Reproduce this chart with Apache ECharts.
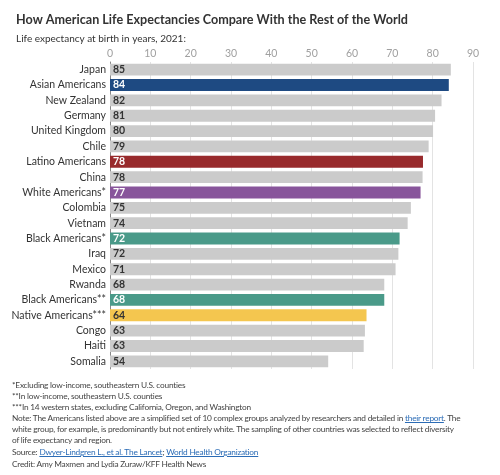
<!DOCTYPE html>
<html lang="en">
<head>
    <meta charset="UTF-8">
    <title>Life Expectancy</title>
    <script src="https://cdn.jsdelivr.net/npm/echarts@6/dist/echarts.min.js"></script>
    <style>
        * {
            padding: 0;
            margin: 0;
        }
        body {
            width: 500px;
            height: 475px;
            position: relative;
            background: #fff;
            font-family: Lato, sans-serif;
        }
        #chart {
            width: 500px;
            height: 475px;
            position: absolute;
            left: 0;
            top: 0;
        }
        .notes {
            position: absolute;
            left: 12px;
            top: 380px;
            width: 480px;
            font-size: 8.3px;
            letter-spacing: -0.22px;
            line-height: 11px;
            color: #444;
        }
        .notes div {
            white-space: nowrap;
        }
        .notes a {
            color: #2b6cb6;
        }
        .notes .src {
            margin-top: 1px;
        }
        .notes .credit {
            margin-top: 1px;
        }
    </style>
</head>
<body>
    <div id="chart"></div>
    <div class="notes">
        <div>*Excluding low-income, southeastern U.S. counties</div>
        <div>**In low-income, southeastern U.S. counties</div>
        <div>***In 14 western states, excluding California, Oregon, and Washington</div>
        <div>Note: The Americans listed above are a simplified set of 10 complex groups analyzed by researchers and detailed in <a href="#">their report</a>. The</div>
        <div>white group, for example, is predominantly but not entirely white. The sampling of other countries was selected to reflect diversity</div>
        <div>of life expectancy and region.</div>
        <div class="src">Source: <a href="#">Dwyer-Lindgren L., et al. The Lancet</a>; <a href="#">World Health Organization</a></div>
        <div class="credit">Credit: Amy Maxmen and Lydia Zuraw/KFF Health News</div>
    </div>
<script>
    var groups = ['Japan', 'Asian Americans', 'New Zealand', 'Germany', 'United Kingdom', 'Chile',
        'Latino Americans', 'China', 'White Americans*', 'Colombia', 'Vietnam', 'Black Americans*',
        'Iraq', 'Mexico', 'Rwanda', 'Black Americans**', 'Native Americans***', 'Congo', 'Haiti', 'Somalia'];
    var lifeExp = [84.5, 84.0, 82.2, 80.6, 80.1, 79.0, 77.6, 77.5, 77.0, 74.6,
        73.8, 71.8, 71.5, 70.8, 68.0, 68.0, 63.6, 63.2, 62.9, 54.1];
    var xTicks = [0, 10, 20, 30, 40, 50, 60, 70, 80, 90];

    // American groups get their own colour, everything else stays grey
    var highlight = {
        'Asian Americans': '#1e4a82',
        'Latino Americans': '#982a2c',
        'White Americans*': '#88559b',
        'Black Americans*': '#4a9a89',
        'Black Americans**': '#4a9a89',
        'Native Americans***': '#f4c64f'
    };
    var darkText = ['Native Americans***'];

    var chart = echarts.init(document.getElementById('chart'));
    var option = {
        animation: false,
        textStyle: { fontFamily: 'Lato, sans-serif' },
        title: [{
            text: 'How American Life Expectancies Compare With the Rest of the World',
            left: 11,
            top: 8,
            textStyle: { fontSize: 12.6, fontWeight: 'bold', color: '#333' }
        }, {
            text: 'Life expectancy at birth in years, 2021:',
            left: 11,
            top: 29,
            textStyle: { fontSize: 10, fontWeight: 'normal', color: '#333' }
        }],
        grid: {
            left: 110,
            right: 27,
            top: 62,
            height: 307,
            containLabel: false
        },
        xAxis: {
            type: 'value',
            position: 'top',
            min: xTicks[0],
            max: xTicks[xTicks.length - 1],
            interval: xTicks[1] - xTicks[0],
            axisLine: { show: false },
            axisTick: { show: false },
            axisLabel: { color: '#a0a0a0', fontSize: 10.5, margin: 3 },
            splitLine: { lineStyle: { color: '#e3e3e3', width: 1 } }
        },
        yAxis: {
            type: 'category',
            inverse: true,
            data: groups,
            axisLine: { show: true, lineStyle: { color: '#888', width: 1 } },
            axisTick: { show: false },
            axisLabel: { color: '#333', fontSize: 10.5, margin: 4, interval: 0 }
        },
        series: [{
            type: 'bar',
            barCategoryGap: '23%',
            data: lifeExp.map(function (v, i) {
                var c = highlight[groups[i]] || '#cbcbcb';
                var white = highlight[groups[i]] && darkText.indexOf(groups[i]) < 0;
                return {
                    value: v,
                    itemStyle: { color: c },
                    label: { color: white ? '#fff' : '#333' }
                };
            }),
            label: {
                show: true,
                position: 'insideLeft',
                distance: 3,
                fontSize: 10.5,
                fontWeight: 'bold',
                formatter: function (p) { return Math.round(p.value); }
            }
        }]
    };
    chart.setOption(option);
</script>
</body>
</html>
